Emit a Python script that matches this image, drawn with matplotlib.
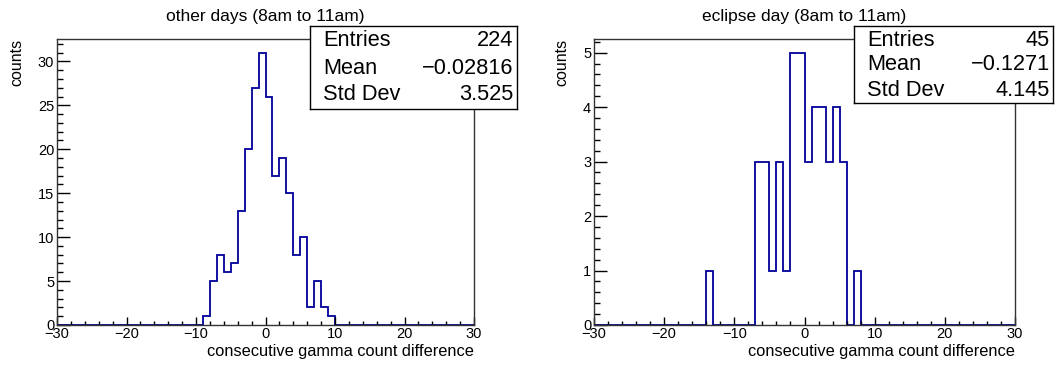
import numpy as np
import matplotlib
matplotlib.use("Agg")
import matplotlib.pyplot as plt
from matplotlib.ticker import MultipleLocator

plt.rcParams['font.family'] = ['Liberation Sans', 'DejaVu Sans']

# ---- data ----
bin_lo, bin_hi, bin_w = -30, 30, 1
other_first_bin = -9
other_counts = [1, 5, 8, 6, 7, 13, 20, 27, 31, 26, 17, 19, 15, 8, 10, 2, 5, 2, 1]
eclipse_first_bin = -14
eclipse_counts = [1, 0, 0, 0, 0, 0, 0, 3, 3, 1, 3, 1, 5, 5, 3, 4, 4, 3, 4, 3, 0, 1]

titles = ["other days (8am to 11am)", "eclipse day (8am to 11am)"]
xlabel = "consecutive gamma count difference"
ylabel = "counts"
stats_labels = ["Entries", "Mean", "Std Dev"]
other_stats = ["224", "\u22120.02816", "3.525"]
eclipse_stats = ["45", "\u22120.1271", "4.145"]

W, H = 1056, 365
fig = plt.figure(figsize=(W / 100, H / 100), dpi=100)

line_color = '#000099'


def full_counts(first, counts):
    edges = np.arange(bin_lo, bin_hi + bin_w, bin_w)
    full = np.zeros(len(edges) - 1)
    i0 = int((first - bin_lo) / bin_w)
    full[i0:i0 + len(counts)] = counts
    return edges, full


def px_rect(x0, y0, x1, y1):
    return [x0 / W, 1 - y1 / H, (x1 - x0) / W, (y1 - y0) / H]


panels = [
    dict(rect=(57, 39, 474, 325), first=other_first_bin, counts=other_counts,
         title=titles[0], stats=other_stats, ymajor=5, yminor=1,
         box=(310, 26, 517, 109), rows=(41, 68, 95), lx=323, rx=513),
    dict(rect=(594, 39, 1015, 325), first=eclipse_first_bin, counts=eclipse_counts,
         title=titles[1], stats=eclipse_stats, ymajor=1, yminor=0.2,
         box=(854, 26, 1053, 103), rows=(40, 64, 90), lx=867, rx=1050),
]

for p in panels:
    ax = fig.add_axes(px_rect(*p['rect']))
    edges, full = full_counts(p['first'], p['counts'])
    ax.stairs(full, edges, color=line_color, linewidth=1.3, baseline=0)
    ax.set_xlim(bin_lo, bin_hi)
    ax.set_ylim(0, max(p['counts']) * 1.05)
    for s in ax.spines.values():
        s.set_color('#333333')
        s.set_linewidth(1.0)
    ax.xaxis.set_major_locator(MultipleLocator(10))
    ax.xaxis.set_minor_locator(MultipleLocator(2))
    ax.yaxis.set_major_locator(MultipleLocator(p['ymajor']))
    ax.yaxis.set_minor_locator(MultipleLocator(p['yminor']))
    ax.tick_params(axis='x', which='major', direction='in', length=5.8, width=1,
                   labelsize=10.5, pad=1.5, top=False)
    ax.tick_params(axis='x', which='minor', direction='in', length=2.9, width=1, top=False)
    ax.tick_params(axis='y', which='major', direction='in', length=9.5, width=1,
                   labelsize=10.5, pad=2, right=False)
    ax.tick_params(axis='y', which='minor', direction='in', length=4.5, width=1, right=False)
    ax.set_xlabel(xlabel, fontsize=11.8, loc='right', labelpad=2)
    ax.set_ylabel(ylabel, fontsize=11.5, loc='top', labelpad=10)

    x0, y0, x1, y1 = p['rect']
    fig.text((x0 + x1) / 2 / W, 1 - 17 / H, p['title'], fontsize=12.5,
             ha='center', va='center')

    # stats box
    bx0, by0, bx1, by1 = p['box']
    box_ax = fig.add_axes(px_rect(bx0, by0, bx1, by1))
    box_ax.set_xticks([])
    box_ax.set_yticks([])
    box_ax.set_xlim(0, 1)
    box_ax.set_ylim(0, 1)
    box_ax.patch.set_facecolor('white')
    for s in box_ax.spines.values():
        s.set_color('black')
        s.set_linewidth(1.0)
    for lab, val, ry in zip(stats_labels, p['stats'], p['rows']):
        fig.text(p['lx'] / W, 1 - ry / H, lab, fontsize=15.7, ha='left', va='center')
        fig.text(p['rx'] / W, 1 - ry / H, val, fontsize=15.7, ha='right', va='center')

fig.savefig("out.png", dpi=100)
